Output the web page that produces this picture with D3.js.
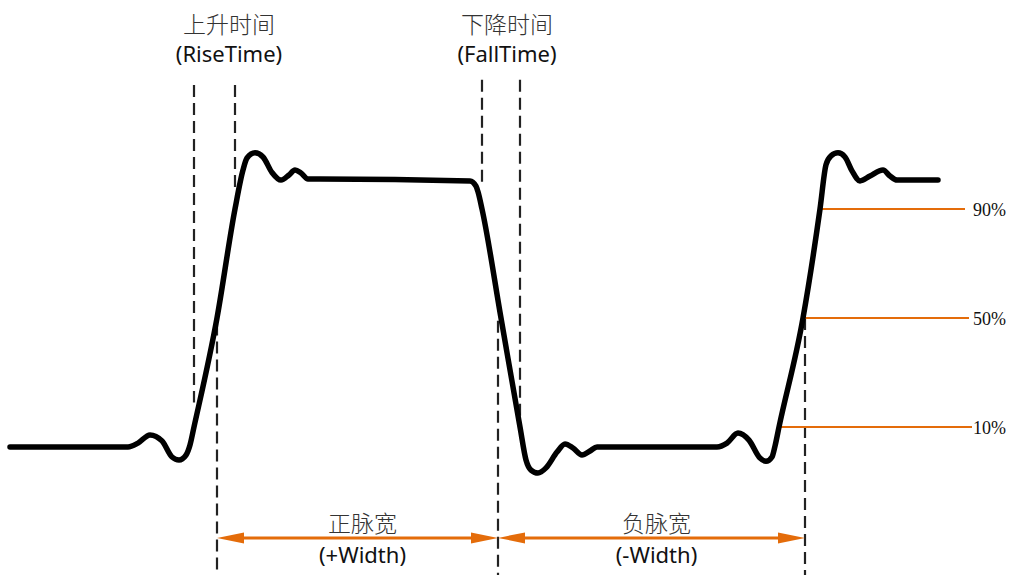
<!DOCTYPE html>
<html><head><meta charset="utf-8">
<script src="https://cdn.jsdelivr.net/npm/d3@7/dist/d3.min.js"></script>
<style>html,body{margin:0;padding:0;background:#fff;}svg{display:block;}</style>
</head><body>
<script>
// ---- data (time in arbitrary units, amplitude in % of pulse height) ----
const waveform = [
  [0,2.7],[11.8,2.7],[12.8,4.1],[14.0,7.1],[15.2,4.9],[16.2,-1.0],[16.9,-2.1],[17.6,-0.3],[18.0,3.4],
  [18.4,10],[20.7,50],[22.5,90],[23.3,104.3],[23.7,108.7],[24.5,110.6],[25.3,109.1],[26.2,103.4],
  [27.1,100.6],[27.9,102.5],[28.5,104.3],[29.1,103.2],[29.8,101.0],[31.0,101.0],[46.0,100.3],
  [46.6,98.4],[46.8,96.3],[47.2,90],[49.1,50],[51.0,10],[51.6,-2.1],[52.1,-5.8],[52.8,-6.9],
  [53.6,-5.0],[54.7,0.8],[55.5,3.8],[56.3,2.3],[57.2,-0.3],[58.0,1.2],[58.7,2.7],[70.7,2.7],
  [71.7,4.1],[72.8,7.8],[73.9,5.2],[75.0,-1.4],[75.6,-2.6],[76.2,-1.0],[76.5,3.0],
  [76.9,10],[79.3,50],[81.0,90],[81.6,106.2],[82.1,109.5],[82.8,110.6],[83.5,109.1],[84.2,104.0],
  [85.0,100.3],[86.0,102.1],[87.3,104.3],[88.0,102.1],[88.7,100.6],[92.8,100.6]
];
const levelValues = [90, 50, 10];
const levelLabels = ["90%", "50%", "10%"];
const levelStart = [81.0, 79.3, 76.9];
const levelEnd = [95.5, 95.9, 96.2];
const timeMarkerT = [18.4, 22.5, 47.2, 51.0];
const timeMarkerLow = [19, 97, 99, 11];
const timeMarkerHigh = [135.5, 135.5, 137.4, 137.4];
const widthMarkerT = [20.7, 48.8, 79.5];
const widthMarkerLow = [48, 49, 50];
const widthNames = ["正脉宽", "负脉宽"];
const widthSubs = ["(+Width)", "(-Width)"];
const timeNames = ["上升时间", "下降时间"];
const timeSubs = ["(RiseTime)", "(FallTime)"];

// ---- layout ----
const W = 1011, H = 575;
const x = d3.scaleLinear().domain([0, 100]).range([10, 1010]);
const y = d3.scaleLinear().domain([0, 100]).range([454.25, 181.75]);
const orange = "#e46c0a";
const svg = d3.select("body").append("svg").attr("width", W).attr("height", H);

// dashed markers
const dash = "12,6";
timeMarkerT.forEach((t, i) => {
  svg.append("line").attr("x1", x(t)).attr("x2", x(t))
    .attr("y1", y(timeMarkerHigh[i])).attr("y2", y(timeMarkerLow[i]))
    .attr("stroke", "#222").attr("stroke-width", 2.2).attr("stroke-dasharray", dash);
});
widthMarkerT.forEach((t, i) => {
  svg.append("line").attr("x1", x(t)).attr("x2", x(t))
    .attr("y1", y(widthMarkerLow[i])).attr("y2", H)
    .attr("stroke", "#222").attr("stroke-width", 2.2).attr("stroke-dasharray", dash);
});

// level lines
levelValues.forEach((v, i) => {
  svg.append("line").attr("x1", x(levelStart[i])).attr("x2", x(levelEnd[i]))
    .attr("y1", y(v)).attr("y2", y(v)).attr("stroke", orange).attr("stroke-width", 2);
  svg.append("text").attr("x", x(96.3)).attr("y", y(v) + 6.5)
    .attr("font-family", "'Liberation Serif', 'Times New Roman', serif")
    .attr("font-size", 18).attr("fill", "#111").text(levelLabels[i]);
});

// waveform
const line = d3.line().x(d => x(d[0])).y(d => y(d[1])).curve(d3.curveMonotoneX);
svg.append("path").datum(waveform).attr("d", line).attr("fill", "none")
  .attr("stroke", "#000").attr("stroke-width", 5.5).attr("stroke-linejoin", "round").attr("stroke-linecap", "round");

// width arrows
const arrowLevel = -30.7;
const ay = y(arrowLevel);
for (let i = 0; i < 2; i++) {
  const xa = x(widthMarkerT[i]), xb = x(widthMarkerT[i + 1]);
  svg.append("line").attr("x1", xa + 10).attr("x2", xb - 10).attr("y1", ay).attr("y2", ay)
    .attr("stroke", orange).attr("stroke-width", 3);
  svg.append("path").attr("d", `M${xa},${ay}L${xa + 27},${ay - 5.5}L${xa + 27},${ay + 5.5}Z`).attr("fill", orange);
  svg.append("path").attr("d", `M${xb},${ay}L${xb - 27},${ay - 5.5}L${xb - 27},${ay + 5.5}Z`).attr("fill", orange);
  const cx = (xa + xb) / 2 + 5;
  svg.append("text").attr("x", cx).attr("y", 532).attr("text-anchor", "middle")
    .attr("font-family", "'Noto Sans CJK SC', sans-serif").attr("font-weight", 300)
    .attr("font-size", 23).attr("fill", "#333").text(widthNames[i]);
  svg.append("text").attr("x", cx).attr("y", 563).attr("text-anchor", "middle")
    .attr("font-family", "'Noto Sans', 'Open Sans', sans-serif")
    .attr("font-size", 22).attr("fill", "#111").text(widthSubs[i]);
}

// rise/fall labels
const labelCx = [229, 507];
for (let i = 0; i < 2; i++) {
  svg.append("text").attr("x", labelCx[i]).attr("y", 33).attr("text-anchor", "middle")
    .attr("font-family", "'Noto Sans CJK SC', sans-serif").attr("font-weight", 300)
    .attr("font-size", 23).attr("fill", "#333").text(timeNames[i]);
  svg.append("text").attr("x", labelCx[i]).attr("y", 62).attr("text-anchor", "middle")
    .attr("font-family", "'Noto Sans', 'Open Sans', sans-serif")
    .attr("font-size", 22).attr("fill", "#111").text(timeSubs[i]);
}
</script>
</body></html>
